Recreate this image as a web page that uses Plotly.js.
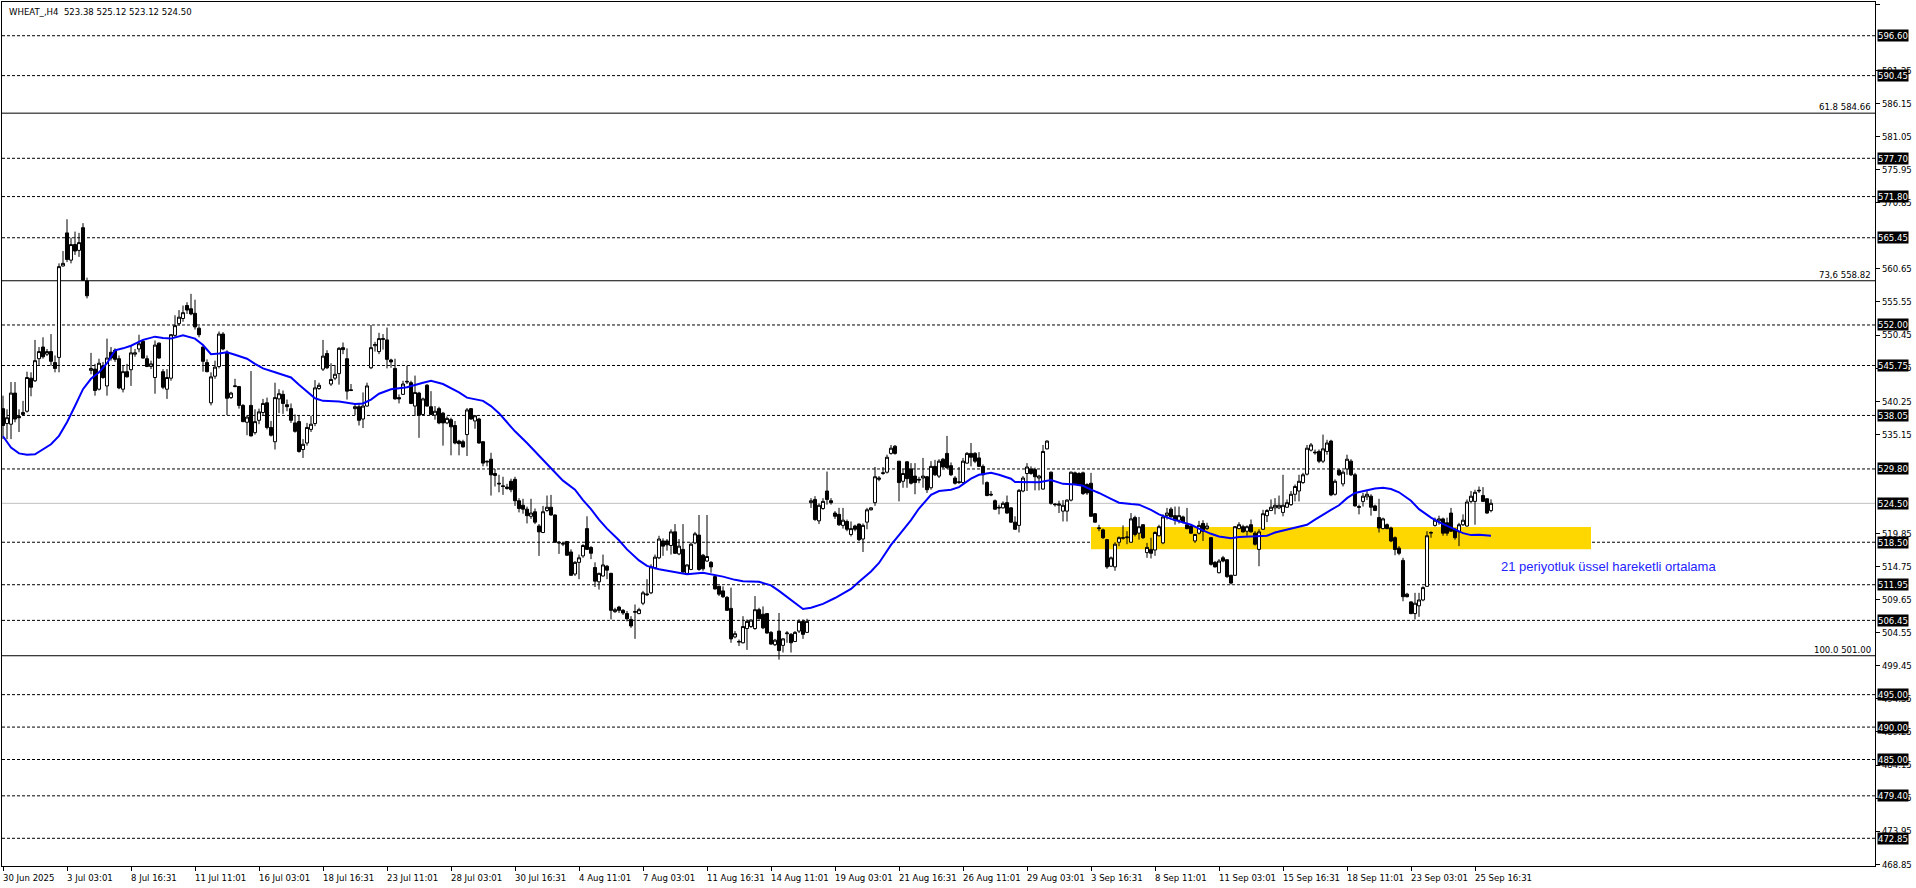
<!DOCTYPE html>
<html><head><meta charset="utf-8">
<script src="https://cdn.plot.ly/plotly-3.0.1.min.js"></script>
<style>html,body{margin:0;padding:0;background:#fff;overflow:hidden}#chart{width:1916px;height:888px}</style>
</head><body><div id="chart"></div>
<script>
// ---- data (H4 bars, index 0 = 30 Jun 2025) ----
const opens = [539.1,536.8,536.7,541.5,537.9,538.2,538.7,543.8,543.4,546.8,548.6,547.5,547.9,546.2,547.0,561.1,566.2,562.0,564.4,563.5,567.0,558.8,545.0,545.2,542.1,545.7,542.6,547.8,548.1,546.8,542.1,544.8,545.1,547.5,548.3,549.5,546.8,545.6,543.9,549.2,544.8,542.1,543.8,550.4,552.2,553.0,555.0,554.5,553.8,551.5,548.6,546.2,540.0,544.1,545.6,550.6,547.8,540.8,542.5,542.5,539.6,537.0,
539.6,535.4,537.3,538.5,540.0,536.2,534.0,540.6,541.3,539.7,539.1,536.9,537.1,532.8,533.8,535.9,536.8,542.2,545.2,547.6,542.9,543.8,544.5,548.5,546.8,542.0,539.1,539.4,537.5,539.5,545.4,548.8,547.9,549.9,549.7,546.6,545.3,540.8,541.3,543.2,543.1,539.5,541.5,538.2,542.7,539.4,538.1,539.1,538.4,536.9,537.4,536.5,534.1,534.0,535.1,539.1,537.2,537.5,534.0,531.0,531.3,529.1,527.6,527.2,
527.0,527.9,528.2,524.9,524.2,523.6,522.5,523.2,521.0,520.0,523.4,523.9,522.7,518.5,518.2,518.6,517.0,513.6,515.4,516.4,520.6,517.7,514.6,512.4,513.3,514.8,513.7,507.8,508.5,508.0,507.5,506.6,507.7,507.5,509.1,510.4,510.7,514.6,516.1,518.7,518.7,518.0,520.1,516.7,517.4,513.7,514.3,518.4,519.6,516.5,515.6,515.4,513.2,511.7,511.0,510.0,508.3,503.9,503.1,503.0,505.2,505.5,505.2,508.1,507.4,507.5,504.6,502.7,504.8,502.6,504.4,504.3,503.2,504.8,506.3,504.6,
524.6,525.1,521.8,523.7,526.4,524.9,523.0,522.8,521.1,521.7,519.7,521.0,521.3,519.0,521.6,523.5,524.6,528.2,529.1,529.3,532.2,533.3,531.0,527.9,530.9,529.8,528.7,528.2,528.4,528.6,526.9,530.2,528.7,531.3,532.2,530.3,528.4,527.7,527.7,530.7,532.2,532.2,531.5,530.2,527.7,525.9,524.9,523.9,523.8,524.6,523.8,521.6,521.1,526.4,529.1,529.8,529.7,528.4,526.7,532.9,529.3,524.4,524.2,523.3,523.3,525.0,529.2,529.1,529.2,527.4,
527.6,522.9,520.6,520.4,518.9,514.8,514.7,518.5,519.1,519.2,518.5,522.3,519.9,521.2,516.9,517.4,517.3,519.5,518.4,522.6,523.6,522.6,521.9,522.4,521.2,521.0,518.7,519.9,521.4,520.6,519.2,515.4,513.8,516.1,515.8,513.4,513.4,520.6,520.9,520.2,521.2,519.9,517.4,520.5,522.6,523.4,523.8,523.8,523.1,523.9,
524.3,525.9,526.4,527.7,529.0,532.7,532.4,532.5,531.0,532.5,534.1,525.9,529.6,527.5,529.8,531.0,528.9,524.0,524.8,525.5,525.6,524.1,522.3,520.6,521.2,520.7,519.2,517.6,515.7,510.5,509.3,507.5,508.7,509.6,511.7,519.9,521.1,521.8,522.1,521.5,523.0,520.5,520.1,521.2,521.0,524.8,524.8,526.4,525.7,525.2,523.38];
const highs = [541.1,539.0,543.2,543.2,539.0,540.3,544.8,544.7,549.7,548.6,550.1,548.3,550.6,547.3,561.5,563.4,568.3,565.45,566.4,566.2,567.7,559.3,547.7,546.0,546.8,546.3,549.9,548.6,548.4,547.3,545.8,546.0,548.8,548.3,550.5,549.7,547.3,546.5,549.6,549.3,545.2,545.2,550.6,553.5,554.3,555.0,555.5,556.8,555.9,551.8,548.7,546.7,544.7,546.5,551.0,550.9,548.1,541.7,543.7,542.6,539.8,538.1,
544.9,539.0,539.1,540.6,540.8,537.2,543.1,542.1,541.9,540.5,539.9,538.2,538.1,534.4,536.9,538.0,543.5,543.1,549.7,548.1,546.1,545.8,548.6,549.3,548.4,542.9,539.8,539.8,541.6,543.1,552.0,549.4,550.8,550.6,551.6,546.8,546.8,541.3,543.4,545.7,543.4,544.2,541.7,540.8,542.9,541.8,539.5,539.4,538.6,537.9,537.7,537.2,534.3,534.3,539.2,539.2,538.1,537.7,534.1,531.1,532.3,529.8,528.9,528.6,
527.5,528.3,528.6,525.3,525.2,524.0,525.2,523.7,521.3,524.1,525.7,525.8,522.8,518.7,518.5,518.7,517.4,515.6,516.6,518.2,522.5,517.9,515.4,513.8,516.6,515.0,513.8,508.4,508.7,508.2,507.9,507.1,508.9,508.4,511.0,512.8,515.1,516.6,519.5,519.1,519.0,520.5,521.3,519.0,521.3,515.1,518.5,520.1,522.7,516.7,522.7,515.6,513.4,511.8,511.7,510.2,511.5,504.8,503.5,507.1,506.6,506.6,510.2,508.4,508.6,507.6,504.8,503.6,507.6,503.7,504.8,504.5,504.8,506.6,506.6,506.7,
525.3,525.6,524.5,525.3,529.4,525.3,523.3,523.8,523.8,522.0,521.7,521.2,521.4,521.4,523.8,523.9,530.1,528.7,530.1,532.0,533.5,533.5,531.0,529.8,531.0,530.7,530.7,528.6,531.5,528.7,531.0,531.2,531.3,531.5,534.9,530.8,528.7,530.1,531.5,532.4,533.8,532.4,532.4,530.5,527.9,526.4,525.1,524.3,524.8,525.7,523.9,522.5,526.7,528.7,530.7,530.2,530.0,528.9,533.5,534.2,529.4,524.5,524.9,525.0,525.1,529.4,529.4,529.3,529.4,527.6,
529.2,523.0,521.2,520.6,519.0,516.3,518.5,519.4,521.1,520.2,523.0,522.6,522.4,521.3,518.4,519.2,520.2,521.2,522.8,523.8,523.9,524.0,524.0,522.6,523.8,521.1,519.8,521.8,521.9,521.5,519.3,515.6,515.9,516.4,515.9,513.5,521.0,521.6,521.2,521.1,522.0,520.2,520.5,523.5,523.6,525.1,525.3,525.7,528.9,525.1,
526.4,527.4,528.9,529.2,533.5,533.8,532.8,532.8,535.1,534.3,534.3,528.2,529.8,529.6,532.0,531.3,529.2,524.3,526.1,526.4,525.9,524.3,525.2,522.3,521.4,520.9,519.4,517.9,516.1,510.7,509.4,510.7,510.7,511.7,520.2,520.2,522.3,522.6,522.3,522.3,523.8,520.7,521.5,522.8,525.1,526.4,526.6,527.1,527.0,525.3,525.12];
const lows = [534.4,534.4,534.4,537.0,535.5,538.0,538.5,541.0,543.2,545.7,546.8,547.2,545.7,544.7,544.7,561.0,561.7,561.5,562.8,562.5,558.8,556.1,544.4,541.1,541.9,543.7,541.1,546.5,546.3,542.1,541.6,543.9,542.6,547.1,547.8,546.8,545.5,545.2,541.4,546.8,542.1,540.6,543.4,550.1,551.9,552.5,553.7,553.5,551.3,550.1,544.8,544.7,539.6,543.7,545.3,548.1,538.1,540.6,542.4,539.1,537.0,535.0,
534.8,535.1,536.7,538.0,535.9,534.8,532.8,538.4,538.3,538.7,536.9,535.4,532.3,531.5,533.4,535.5,536.4,542.0,544.9,545.2,542.6,543.5,542.8,547.5,540.5,541.8,538.1,536.5,536.1,539.4,545.2,547.9,547.5,548.2,545.3,545.4,540.5,539.9,541.2,542.9,539.8,538.0,534.6,538.1,539.4,538.1,537.4,536.7,533.4,536.7,531.9,533.6,531.9,533.1,531.8,537.4,536.0,533.7,530.2,530.2,525.7,527.1,526.2,525.8,
526.6,526.2,524.1,523.1,522.9,521.4,522.1,521.3,516.4,519.9,523.2,522.6,518.4,516.7,517.9,516.4,513.3,513.3,512.8,516.1,517.3,515.9,511.6,511.2,513.2,512.8,506.6,507.6,507.6,507.3,506.3,505.3,503.6,507.4,508.8,510.2,510.5,514.3,515.9,516.4,517.2,516.6,516.7,516.5,513.8,513.5,514.2,518.2,514.1,514.1,515.5,513.8,511.2,510.2,509.9,507.9,503.0,503.7,502.5,502.9,501.9,505.3,505.0,506.6,505.1,504.4,502.7,502.5,500.4,501.5,503.0,501.5,503.1,504.5,503.6,504.5,
523.8,521.8,521.3,523.5,524.3,524.3,522.1,521.0,520.6,520.2,519.4,520.2,518.7,517.0,520.5,523.4,524.1,527.9,528.9,529.1,532.0,532.0,524.8,526.9,526.9,527.4,525.9,527.6,526.9,526.1,526.6,528.7,528.4,529.9,529.8,528.7,527.4,527.5,527.5,530.6,530.2,530.7,530.1,527.4,525.6,525.6,523.5,522.8,523.7,522.9,521.5,520.4,520.0,526.2,526.4,528.9,526.5,526.5,526.6,532.8,524.3,524.0,523.0,521.7,521.7,524.8,527.4,527.2,525.8,525.8,
522.4,521.5,520.2,519.0,514.4,514.7,514.1,517.9,518.9,518.2,518.4,519.4,518.9,519.0,516.1,516.0,516.4,519.4,518.2,522.0,522.3,521.2,521.4,521.4,520.5,519.8,518.4,519.7,518.7,520.4,514.9,514.6,513.7,515.4,513.0,512.0,513.3,520.5,520.0,519.5,520.0,518.0,514.8,520.4,521.6,523.3,522.8,523.6,522.5,523.8,
524.1,524.8,524.8,527.5,528.8,532.5,532.0,530.7,530.7,532.0,525.6,525.7,528.7,527.1,528.9,528.7,524.0,522.8,524.0,525.0,522.6,523.3,520.0,520.5,520.5,518.5,516.5,516.5,509.4,510.0,507.4,506.6,507.0,509.4,511.6,519.2,520.9,521.2,519.5,519.5,520.1,518.9,517.9,521.0,520.9,524.5,521.2,526.1,524.7,522.9,523.12];
const closes = [536.5,537.7,541.5,537.5,537.7,538.5,543.9,542.4,546.5,547.9,547.1,547.9,546.4,545.3,561.0,561.5,562.1,564.4,563.4,564.7,558.9,556.5,545.3,541.9,546.1,543.9,546.9,546.9,546.7,542.3,544.8,544.0,547.7,547.7,549.1,546.9,545.6,546.0,548.9,546.9,542.4,543.9,550.5,551.9,553.2,553.9,554.3,553.7,551.7,550.5,546.4,544.8,544.0,545.5,550.6,548.3,540.7,541.5,542.6,539.6,537.1,537.8,
534.9,537.1,538.6,539.9,536.2,535.0,540.8,541.4,539.9,539.4,537.3,535.6,532.5,533.6,536.2,536.7,542.3,542.7,547.2,545.4,543.6,544.4,548.4,548.2,541.8,541.9,539.4,537.3,539.5,542.6,548.5,549.0,549.9,549.8,546.7,546.3,540.6,540.6,542.9,543.3,539.9,541.6,538.1,540.6,539.5,538.2,538.7,536.9,536.9,537.6,536.3,533.8,533.7,533.2,538.9,537.5,538.0,533.8,530.7,530.9,528.9,528.8,527.5,527.1,
526.8,526.6,524.9,523.7,523.6,522.6,523.0,521.6,520.1,523.2,523.9,522.7,518.5,518.4,518.3,516.5,513.4,515.4,516.1,518.0,517.4,516.8,512.5,513.7,515.0,514.2,508.0,508.1,508.0,507.6,506.7,505.6,507.8,508.1,510.7,510.5,514.7,516.2,519.0,517.9,518.1,520.1,516.8,517.9,513.9,515.0,518.2,519.8,514.3,514.4,516.3,514.7,511.3,510.5,510.1,508.0,503.6,504.4,503.2,505.5,506.3,506.5,508.1,506.7,505.3,504.5,502.8,503.4,501.8,503.6,504.5,503.0,504.6,506.3,504.3,506.3,
524.9,522.0,524.2,524.8,525.1,524.6,522.5,521.2,521.9,520.5,520.6,520.5,518.9,521.1,523.5,523.8,528.6,528.4,529.2,531.6,533.0,532.2,527.7,529.1,528.3,527.6,527.7,528.1,528.7,526.6,530.2,528.9,531.0,530.1,530.0,528.9,527.6,527.8,531.0,532.2,531.6,531.0,530.2,528.9,525.7,525.8,523.6,523.8,524.5,523.0,521.6,520.5,526.5,528.4,530.1,529.1,528.6,528.7,532.5,534.1,524.5,524.3,524.4,524.2,525.0,529.3,527.5,527.4,526.0,526.1,
522.5,521.6,520.7,519.2,514.7,516.1,518.2,519.2,519.2,519.3,522.1,519.7,520.9,519.2,517.7,516.8,520.0,520.9,522.4,523.0,522.4,521.9,522.6,521.6,520.6,519.9,519.7,521.1,520.2,521.0,515.1,514.7,515.6,515.6,513.2,512.2,520.9,521.2,520.1,520.9,520.1,518.2,520.1,522.9,523.4,523.9,524.2,524.2,524.2,524.6,
525.9,527.1,527.9,528.9,533.0,533.5,532.3,531.0,532.9,533.8,525.8,527.9,528.9,529.3,531.3,528.9,524.1,523.9,525.6,525.9,523.9,523.4,520.7,522.1,520.6,518.7,517.4,516.8,510.1,510.1,507.5,509.1,509.6,511.5,519.5,520.0,521.9,522.1,519.9,519.9,520.2,519.2,521.2,521.9,524.7,525.6,526.2,526.5,524.8,523.0,524.50];

// 21-period EMA as drawn in the reference, read at these bar positions
const emaBars = [0,2,4,6,8,10,12,14,16,18,20,22,24,26,28,30,32,35,38,40,42,45,48,50,52,54,56,58,61,63,65,68,70,72,74,76,78,80,84,88,90,92,94,97,101,105,107,110,112,114,116,120,122,124,126,128,131,134,137,140,143,145,147,149,151,154,156,159,161,164,167,171,175,178,180,183,185,189,192,194,197,199,200,202,205,208,210,212,214,217,219,222,224,227,229,231,232,234,237,239,240,242,244,247,249,252,253,257,259,262,263,265,268,270,272,274,277,279,282,284,287,289,292,294,297,299,302,304,307,309,312,314,316,318,320,322,324,326,328,329,332,334,336,338,341,343,345,347,349,352,354,357,359,361,363,365,367,369,372];
const emaValues = [534.85,533.1,532.2,532.0,532.05,532.8,533.6,534.9,537.0,539.5,542.1,543.7,544.7,546.1,548.1,548.4,548.8,549.7,550.2,550.0,549.9,550.4,549.9,548.9,547.5,547.6,547.8,547.4,546.8,546.0,545.3,544.7,544.3,543.9,542.8,541.7,540.7,540.3,540.2,539.8,539.9,540.5,541.4,542.1,542.4,543.1,543.4,542.9,542.3,541.6,540.8,540.3,539.5,538.4,537.0,535.6,533.8,531.8,529.9,528.0,526.6,525.0,523.6,522.0,520.6,518.8,517.4,515.7,514.85,514.35,514.0,513.55,513.8,513.5,513.2,512.7,512.5,512.4,511.85,511.0,509.6,508.7,508.2,508.4,509.0,509.9,510.6,511.3,512.4,514.0,515.3,518.1,519.6,521.9,523.7,525.1,525.8,526.4,526.6,527.0,527.4,528.3,528.9,529.2,528.9,528.3,527.8,527.75,527.75,528.1,527.9,527.5,527.4,527.2,526.6,526.1,525.2,524.6,524.4,524.3,523.5,522.8,522.1,521.75,521.2,520.6,519.8,519.4,519.1,519.3,519.4,519.4,519.5,520.0,520.3,520.6,520.9,521.2,522.0,522.4,523.5,524.2,525.3,526.1,526.5,526.8,526.9,526.7,526.2,524.9,523.6,522.3,521.6,521.0,520.4,519.9,519.6,519.65,519.5];

// time axis labels (every 16 bars)
const xTickBars = [0,16,32,48,64,80,96,112,128,144,160,176,192,208,224,240,256,272,288,304,320,336,352,368];
const xTickLabels = ["30 Jun 2025","3 Jul 03:01","8 Jul 16:31","11 Jul 11:01","16 Jul 03:01","18 Jul 16:31","23 Jul 11:01","28 Jul 03:01","30 Jul 16:31","4 Aug 11:01","7 Aug 03:01","11 Aug 16:31","14 Aug 11:01","19 Aug 03:01","21 Aug 16:31","26 Aug 11:01","29 Aug 03:01","3 Sep 16:31","8 Sep 11:01","11 Sep 03:01","15 Sep 16:31","18 Sep 11:01","23 Sep 03:01","25 Sep 16:31"];

// price scale (scale values hidden behind the level boxes in the reference are left out)
const yTickValues = [601.45,591.25,586.15,581.05,575.95,570.85,560.65,555.55,550.45,545.35,540.25,535.15,519.85,514.75,509.65,504.55,499.45,494.35,489.25,484.15,479.05,473.95,468.85];
const levelPrices = [596.60,590.45,577.70,571.80,565.45,552.00,545.75,538.05,529.80,518.50,511.95,506.45,495.00,490.00,485.00,479.40,472.85];
const fibPrices = [584.66,558.82,501.00];
const fibLabels = ["61.8 584.66","73,6 558.82","100.0 501.00"];
const lastPrice = 524.50;
const zoneBars = [272,397];
const zonePrices = [517.42,520.86];
const noteBar = 374;
const notePrice = 514.7;
const noteText = "21 periyotluk üssel hareketli ortalama";
const headerText = "WHEAT_,H4\u00A0 523.38 525.12 523.12 524.50";

// ---- drawing ----
const FONT = "DejaVu Sans Condensed, Liberation Sans, sans-serif";
const FS = 9.5;
const barIndex = opens.map((_, i) => i);

const shapes = [];
shapes.push({type:'rect', xref:'x', yref:'y', x0:zoneBars[0], x1:zoneBars[1], y0:zonePrices[0], y1:zonePrices[1],
  fillcolor:'#FFD700', line:{width:0}, layer:'below'});
levelPrices.forEach(p => shapes.push({type:'line', xref:'paper', x0:0, x1:1, yref:'y', y0:p, y1:p,
  line:{color:'#000', width:1, dash:'3px,2px'}, layer:'below'}));
fibPrices.forEach(p => shapes.push({type:'line', xref:'paper', x0:0, x1:1, yref:'y', y0:p, y1:p,
  line:{color:'#000', width:1}, layer:'below'}));
shapes.push({type:'line', xref:'paper', x0:0, x1:1, yref:'y', y0:lastPrice, y1:lastPrice,
  line:{color:'#C0C0C0', width:1}, layer:'below'});

const annotations = [];
xTickBars.forEach((b, i) => annotations.push({xref:'x', yref:'paper', x:b, y:0, xanchor:'left', yanchor:'top',
  yshift:-4, xshift:-2, text:xTickLabels[i], showarrow:false, font:{family:FONT, size:FS, color:'#000'}}));
levelPrices.concat([lastPrice]).forEach(p => annotations.push({xref:'paper', yref:'y', x:1, y:p, xanchor:'left', yanchor:'middle',
  xshift:2, text:p.toFixed(2), showarrow:false, bgcolor:'#000', borderpad:0, font:{family:FONT, size:FS, color:'#fff'}}));
fibPrices.forEach((p, i) => annotations.push({xref:'paper', yref:'y', x:1, y:p, xanchor:'right', yanchor:'bottom',
  xshift:-2, yshift:-1, text:fibLabels[i], showarrow:false, font:{family:FONT, size:FS, color:'#000'}}));
annotations.push({xref:'paper', yref:'paper', x:0, y:1, xanchor:'left', yanchor:'top', xshift:5, yshift:-2,
  text:headerText, showarrow:false, font:{family:FONT, size:FS, color:'#000'}});
annotations.push({xref:'x', yref:'y', x:noteBar, y:notePrice, xanchor:'left', yanchor:'middle',
  text:noteText, showarrow:false, font:{family:'Liberation Sans, Arial, sans-serif', size:13, color:'#2323FF'}});

const traces = [
  {type:'candlestick', x:barIndex, open:opens, high:highs, low:lows, close:closes,
   increasing:{line:{color:'#000', width:1}, fillcolor:'#fff'},
   decreasing:{line:{color:'#000', width:1}, fillcolor:'#000'},
   whiskerwidth:0, hoverinfo:'skip', showlegend:false},
  {type:'scatter', mode:'lines', x:emaBars, y:emaValues, line:{color:'#0000FF', width:2},
   hoverinfo:'skip', showlegend:false}
];

const layout = {
  width:1916, height:888,
  margin:{l:2, r:41, t:2, b:22, pad:0},
  paper_bgcolor:'#fff', plot_bgcolor:'#fff',
  showlegend:false,
  boxgap:0.15, boxgroupgap:0.1,
  xaxis:{range:[-0.25, 468], showgrid:false, zeroline:false, showline:true, mirror:true,
    linecolor:'#000', linewidth:1, ticks:'outside', ticklen:4, tickcolor:'#000', tickwidth:1,
    tickvals:xTickBars, showticklabels:false, rangeslider:{visible:false}, fixedrange:true},
  yaxis:{range:[468.58, 601.80], side:'right', showgrid:false, zeroline:false, showline:true, mirror:true,
    linecolor:'#000', linewidth:1, ticks:'outside', ticklen:4, tickcolor:'#000', tickwidth:1,
    tickvals:yTickValues, tickformat:'.2f', tickfont:{family:FONT, size:FS, color:'#000'}, fixedrange:true},
  shapes:shapes, annotations:annotations
};

Plotly.newPlot('chart', traces, layout, {staticPlot:true, displayModeBar:false});
</script>
</body></html>
